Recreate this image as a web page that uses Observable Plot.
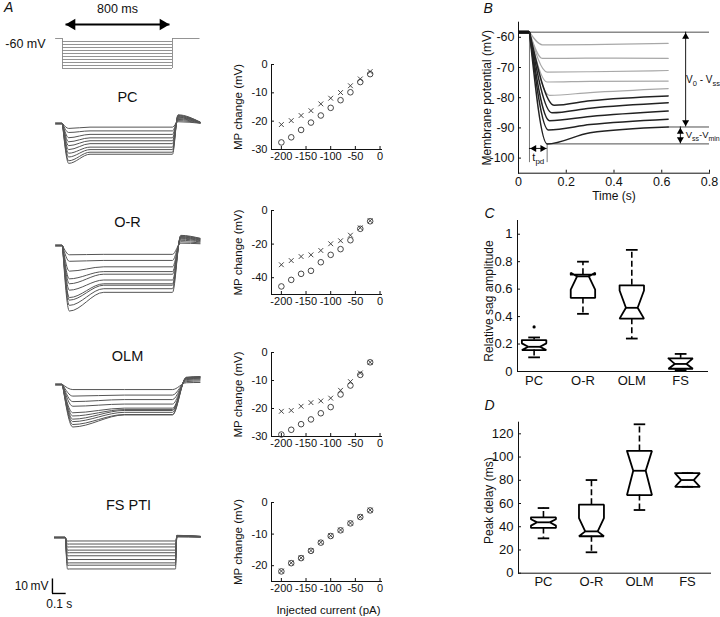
<!DOCTYPE html>
<html><head><meta charset="utf-8">
<script src="https://cdn.jsdelivr.net/npm/d3@7"></script>
<script src="https://cdn.jsdelivr.net/npm/@observablehq/plot@0.6"></script>
<style>
body{margin:0;background:#fff;}
#chart{position:relative;width:720px;height:617px;overflow:hidden;background:#fff;}
#chart svg{position:absolute;left:0;top:0;}
</style></head><body><div id="chart"></div>
<script>
// ---------------- DATA ----------------
const currents = [-200,-180,-160,-140,-120,-100,-80,-60,-40,-20]; // pA
const stepDuration = 0.8; // s (800 ms)
// MP change (mV): circles = peak, crosses = steady state
const pcPeak    = [-27.5,-25.7,-23.1,-20.5,-18.0,-15.3,-12.6,-9.8,-6.2,-3.4];
const pcSteady  = [-21.2,-19.8,-18.0,-16.3,-13.9,-11.9,-9.9,-7.5,-5.1,-2.5];
const orPeak    = [-45.2,-41.3,-37.7,-35.9,-30.8,-26.4,-23.0,-17.7,-10.9,-6.4];
const orSteady  = [-32.3,-29.8,-27.4,-26.4,-23.8,-19.8,-18.0,-14.7,-10.3,-6.1];
const olmPeak   = [-29.3,-27.6,-25.6,-23.9,-21.7,-19.5,-15.0,-11.8,-8.0,-3.5];
const olmSteady = [-21.0,-20.7,-19.2,-17.9,-17.3,-16.3,-13.5,-10.4,-7.3,-3.5];
const fsPeak    = [-21.8,-19.2,-17.6,-15.3,-12.7,-10.6,-8.8,-6.6,-4.6,-2.5];
const fsSteady  = [-21.7,-19.1,-17.5,-15.2,-12.6,-10.5,-8.7,-6.5,-4.5,-2.4];
// rebound after the step (mV above rest): peak and value at end of sweep
const pcRebound     = [6.0,5.6,5.2,4.8,4.4,4.0,3.4,2.8,2.0,1.2];
const pcReboundEnd  = [1.0,1.0,0.9,0.8,0.7,0.6,0.5,0.4,0.3,0.2];
const orRebound     = [7.0,6.6,6.2,5.8,5.4,5.0,4.4,3.6,2.6,1.6];
const orReboundEnd  = [5.0,4.8,4.5,4.2,3.8,3.4,3.0,2.5,1.8,1.2];
const olmRebound    = [5.0,4.8,4.6,4.4,4.1,3.8,3.4,2.8,2.0,1.2];
const olmReboundEnd = [5.5,5.3,5.1,4.9,4.6,4.3,3.8,3.2,2.4,1.4];
const fsRebound     = [1.5,1.4,1.3,1.2,1.1,1.0,0.9,0.8,0.6,0.4];
const fsReboundEnd  = [0.8,0.8,0.7,0.7,0.6,0.6,0.5,0.4,0.3,0.2];
const cellNames = ["PC","O-R","OLM","FS PTI"];
// waveform timing (s)
const peakTime   = [0.045,0.05,0.075,0.015];
const settleTime = [0.2,0.3,0.45,0.03];
const reboundTime= [0.84,0.86,0.9,0.81];
const sweepEnd   = [1.0,1.0,1.0,0.98];
const sweepStart = [-0.05,-0.05,-0.05,-0.08];

// Panel B: membrane potential traces (mV), 5 recorded (grey) + 5 model (black)
const bRest = -58.3;
const bStepOnset = 0.046, bSweepEnd = 0.627;
const bMin     = [-62.5,-67.0,-71.5,-74.8,-79.2,-82.5,-85.0,-87.6,-90.7,-95.3];
const bMinTime = [0.10,0.10,0.12,0.12,0.13,0.15,0.14,0.13,0.125,0.12];
const bMid     = [-62.4,-66.9,-71.4,-74.6,-78.3,-81.0,-83.5,-86.2,-88.9,-91.6]; // at 0.3 s
const bEnd     = [-62.0,-67.0,-71.0,-74.5,-77.0,-79.4,-81.7,-84.4,-87.1,-89.7];
const bKind    = ["rec","rec","rec","rec","rec","model","model","model","model","model"];

// Panels C & D: notched box plots
const groups = ["PC","O-R","OLM","FS"];
const sagWhiskerLo = [0.103,0.42,0.24,0.01];
const sagQ1        = [0.156,0.536,0.385,0.02];
const sagNotchLo   = [0.156,0.597,0.385,0.02];
const sagMedian    = [0.18,0.693,0.464,0.055];
const sagNotchHi   = [0.205,0.72,0.59,0.096];
const sagQ3        = [0.229,0.705,0.628,0.096];
const sagWhiskerHi = [0.248,0.80,0.886,0.128];
const sagOutlierGroup = ["PC"], sagOutlierValue = [0.325];
const delayWhiskerLo = [30,18,54.4,74.4];
const delayQ1        = [39,31.8,67.3,74.4];
const delayNotchLo   = [41,31.8,67.3,74.4];
const delayMedian    = [43.8,36,88.2,80.2];
const delayNotchHi   = [46.5,47.5,105.3,86.2];
const delayQ3        = [48,59,105.3,86.2];
const delayWhiskerHi = [56.1,80.2,128.2,86.2];

// ---------------- LAYOUT ----------------
const W = 720, H = 617;
const FONT = "'Liberation Sans', Arial, Helvetica, sans-serif";
const root = document.getElementById("chart");
const PX_PER_S = 137.5, PX_PER_MV = 1.45;
function frame(x0, x1, y0, y1) {
  return {width: W, height: H, marginLeft: x0, marginRight: W - x1, marginTop: y0, marginBottom: H - y1};
}
function draw(opts, fontSize = 11) {
  const svg = Plot.plot({...opts, style: {background: "transparent", fontFamily: FONT, fontSize: fontSize + "px", color: "#111", overflow: "visible"}});
  svg.style.position = "absolute"; svg.style.left = "0px"; svg.style.top = "0px";
  root.appendChild(svg);
  return svg;
}
const fmt = d => String(d);
const traceColor = "#555";
const C = {textAnchor: "middle", lineAnchor: "middle"};

// ---- Panel A: stimulus protocol ----
{
  const t0px = 62;
  const inset = 0.022;
  draw({
    ...frame(t0px - 0.15 * PX_PER_S, t0px + 1.0 * PX_PER_S, 38, 68),
    x: {domain: [-0.15, 1.0], axis: null},
    y: {domain: [-200, 0], axis: null},
    marks: [
      Plot.ruleY([0], {x1: -0.05, x2: 0, stroke: "#888", strokeWidth: 0.9}),
      Plot.ruleY([0], {x1: stepDuration, x2: 1.0, stroke: "#888", strokeWidth: 0.9}),
      Plot.ruleX([0, stepDuration], {y1: 0, y2: currents[0], stroke: "#888", strokeWidth: 0.9}),
      Plot.ruleY(currents, {x1: 0, x2: stepDuration, stroke: "#888", strokeWidth: 0.9}),
      Plot.link([stepDuration], {x1: inset, x2: stepDuration - inset, y1: 0, y2: 0, dy: -14, stroke: "#000", strokeWidth: 2.2}),
      Plot.dot([inset], {x: d => d, y: 0, dy: -14, dx: 6.5, symbol: "triangle", rotate: -90, r: 4.2, fill: "#000", stroke: "none"}),
      Plot.dot([stepDuration - inset], {x: d => d, y: 0, dy: -14, dx: -6.5, symbol: "triangle", rotate: 90, r: 4.2, fill: "#000", stroke: "none"}),
      Plot.text([`${stepDuration * 1000} ms`], {x: stepDuration / 2, y: 0, dy: -30, fontSize: 12.5, ...C}),
      Plot.text(["-60 mV"], {x: -0.05, y: 0, dx: -10, dy: 5, textAnchor: "end", lineAnchor: "middle", fontSize: 12.5}),
      Plot.text(["A"], {frameAnchor: "top-left", dx: -38, dy: -31, textAnchor: "start", lineAnchor: "middle", fontStyle: "italic", fontSize: 14})
    ]
  });
}

// ---- Panel A: voltage traces ----
const peaks = [pcPeak, orPeak, olmPeak, fsPeak];
const steadies = [pcSteady, orSteady, olmSteady, fsSteady];
const rebounds = [pcRebound, orRebound, olmRebound, fsRebound];
const reboundEnds = [pcReboundEnd, orReboundEnd, olmReboundEnd, fsReboundEnd];
const traceLayout = [
  {t0px: 62, basePx: 123, labelY: 97, labelX: 127},
  {t0px: 62, basePx: 245, labelY: 222, labelX: 127},
  {t0px: 62, basePx: 384, labelY: 356, labelX: 127},
  {t0px: 65, basePx: 537, labelY: 505, labelX: 128}
];
cellNames.forEach((name, ci) => {
  const L = traceLayout[ci];
  const x0 = L.t0px - 0.15 * PX_PER_S, x1 = L.t0px + 1.0 * PX_PER_S;
  const y0 = L.basePx - 34, y1 = L.basePx + 76;
  const main = currents.flatMap((c, i) => [
    {t: 0, v: 0}, {t: peakTime[ci], v: peaks[ci][i]}, {t: settleTime[ci], v: steadies[ci][i]},
    {t: stepDuration, v: steadies[ci][i]}, {t: reboundTime[ci], v: rebounds[ci][i]}, {t: sweepEnd[ci], v: reboundEnds[ci][i]}
  ].map(p => ({...p, k: c})));
  const marks = [
    Plot.ruleY([0], {x1: sweepStart[ci], x2: 0, stroke: traceColor, strokeWidth: 2.4}),
    Plot.line(main, {x: "t", y: "v", z: "k", curve: "monotone-x", stroke: traceColor, strokeWidth: 1}),
    Plot.text([name], {frameAnchor: "top", dx: L.labelX - (x0 + x1) / 2, dy: L.labelY - y0, fontSize: 14.5, ...C})
  ];
  if (ci === 3) {
    const barT = -0.095, barV = -38.6;
    marks.push(
      Plot.ruleX([barT], {y1: barV, y2: barV + 10, stroke: "#000", strokeWidth: 1.4}),
      Plot.ruleY([barV], {x1: barT, x2: barT + 0.1, stroke: "#000", strokeWidth: 1.4}),
      Plot.text(["10\u2009mV"], {x: barT, y: barV + 5, dx: -4, textAnchor: "end", lineAnchor: "middle", fontSize: 12}),
      Plot.text(["0.1 s"], {x: barT + 0.05, y: barV, dy: 11, fontSize: 12, ...C})
    );
  }
  draw({
    ...frame(x0, x1, y0, y1),
    x: {domain: [-0.15, 1.0], axis: null},
    y: {domain: [-76 / PX_PER_MV, 34 / PX_PER_MV], axis: null},
    marks
  });
});

// ---- Panel A: MP change vs injected current ----
const mpLayout = [
  {y0: 64, y1: 149, yDomain: [-30, 0], yTicks: [-30,-20,-10,0]},
  {y0: 210, y1: 294, yDomain: [-50, 0], yTicks: [-40,-20,0]},
  {y0: 352, y1: 436, yDomain: [-30, 0], yTicks: [-30,-20,-10,0]},
  {y0: 502, y1: 581, yDomain: [-25, 0], yTicks: [-20,-10,0]}
];
mpLayout.forEach((L, ci) => {
  const marks = [
    Plot.dot(currents, {x: d => d, y: (d, i) => peaks[ci][i], r: 2.8, stroke: "#333", fill: "none", strokeWidth: 0.9}),
    Plot.dot(currents, {x: d => d, y: (d, i) => steadies[ci][i], symbol: "times", r: 2.3, stroke: "#333", strokeWidth: 0.9}),
    Plot.text(["MP change (mV)"], {frameAnchor: "left", rotate: -90, dx: -33, fontSize: 11.5, ...C})
  ];
  if (ci === 3) marks.push(Plot.text(["Injected current (pA)"], {frameAnchor: "bottom", dx: 2, dy: 29, fontSize: 11.5, ...C}));
  draw({
    ...frame(271, 381, L.y0, L.y1),
    x: {domain: [-220, 3], ticks: [-200,-150,-100,-50,0], tickFormat: fmt, line: true, label: null, tickSize: -3, tickPadding: 6},
    y: {domain: L.yDomain, ticks: L.yTicks, tickFormat: fmt, line: true, label: null, tickSize: -3, tickPadding: 7},
    marks
  }, 11);
});

// ---- Panel B ----
{
  const bTraces = bMin.flatMap((m, i) => [
    {t: bStepOnset, v: bRest}, {t: bMinTime[i], v: m}, {t: 0.3, v: bMid[i]}, {t: bSweepEnd, v: bEnd[i]}
  ].map(p => ({...p, k: i, kind: bKind[i]})));
  const iLow = bMin.length - 1;
  const vss = bEnd[iLow], vmin = bMin[iLow], tmin = bMinTime[iLow];
  const ax1 = 0.70, ax2 = 0.678, hr = 2.6;
  draw({
    ...frame(518, 709, 21.7, 172.7),
    x: {domain: [0, 0.8], ticks: [0,0.2,0.4,0.6,0.8], tickFormat: fmt, line: true, label: null, tickSize: -3, tickPadding: 7},
    y: {domain: [-105, -55], ticks: [-100,-90,-80,-70,-60], tickFormat: fmt, line: true, label: null, tickSize: -3, tickPadding: 7},
    marks: [
      Plot.ruleY([bRest], {x1: bStepOnset, x2: 0.8, stroke: "#222", strokeWidth: 0.8}),
      Plot.ruleY([vss], {x1: bSweepEnd, x2: 0.8, stroke: "#222", strokeWidth: 0.8}),
      Plot.ruleY([vmin], {x1: tmin, x2: 0.8, stroke: "#222", strokeWidth: 0.8}),
      Plot.ruleX([bStepOnset], {y1: bRest, y2: -101.5, stroke: "#555", strokeWidth: 0.8}),
      Plot.ruleX([tmin], {y1: vmin, y2: -101.5, stroke: "#555", strokeWidth: 0.8}),
      Plot.line(bTraces.filter(d => d.kind === "rec"), {x: "t", y: "v", z: "k", curve: "monotone-x", stroke: "#a8a8a8", strokeWidth: 1.2}),
      Plot.line(bTraces.filter(d => d.kind === "model"), {x: "t", y: "v", z: "k", curve: "monotone-x", stroke: "#222", strokeWidth: 1.5}),
      Plot.ruleY([bRest], {x1: 0, x2: bStepOnset, stroke: "#111", strokeWidth: 3.5}),
      // V0 - Vss arrow
      Plot.ruleX([ax1], {y1: bRest, y2: vss, stroke: "#000", strokeWidth: 0.9}),
      Plot.dot([ax1], {x: d => d, y: bRest, dy: 2 * hr * 0.9, symbol: "triangle", r: hr, fill: "#000", stroke: "none"}),
      Plot.dot([ax1], {x: d => d, y: vss, dy: -2 * hr * 0.9, symbol: "triangle", rotate: 180, r: hr, fill: "#000", stroke: "none"}),
      // Vss - Vmin arrow
      Plot.ruleX([ax2], {y1: vss, y2: vmin, stroke: "#000", strokeWidth: 0.9}),
      Plot.dot([ax2], {x: d => d, y: vss, dy: 2 * hr * 0.9, symbol: "triangle", r: hr, fill: "#000", stroke: "none"}),
      Plot.dot([ax2], {x: d => d, y: vmin, dy: -2 * hr * 0.9, symbol: "triangle", rotate: 180, r: hr, fill: "#000", stroke: "none"}),
      // t_pd arrow
      Plot.ruleY([-96.8], {x1: bStepOnset, x2: tmin, stroke: "#000", strokeWidth: 0.9}),
      Plot.dot([-96.8], {x: bStepOnset, y: d => d, dx: 2 * hr * 0.9, symbol: "triangle", rotate: -90, r: hr, fill: "#000", stroke: "none"}),
      Plot.dot([-96.8], {x: tmin, y: d => d, dx: -2 * hr * 0.9, symbol: "triangle", rotate: 90, r: hr, fill: "#000", stroke: "none"}),
      Plot.text(["tpd"], {x: (bStepOnset + tmin) / 2, y: -99.8, fontSize: 11, ...C}),
      Plot.text(["V0 - Vss"], {x: 0.702, y: -74, textAnchor: "start", lineAnchor: "middle", fontSize: 10}),
      Plot.text(["Vss-Vmin"], {x: 0.7, y: -92.3, textAnchor: "start", lineAnchor: "middle", fontSize: 9.5}),
      Plot.text(["Membrane potential (mV)"], {frameAnchor: "left", rotate: -90, dx: -31, fontSize: 12, ...C}),
      Plot.text(["Time (s)"], {frameAnchor: "bottom", dy: 23, fontSize: 12, ...C}),
      Plot.text(["B"], {frameAnchor: "top-left", dx: -35, dy: -14, textAnchor: "start", lineAnchor: "middle", fontStyle: "italic", fontSize: 14})
    ]
  }, 12.5);
}

// ---- Panels C & D: notched box plots ----
function boxMarks(stats, w, wn, cap) {
  const outline = stats.flatMap(s => [
    [s.x - w, s.q3], [s.x + w, s.q3], [s.x + w, s.nhi], [s.x + wn, s.med], [s.x + w, s.nlo], [s.x + w, s.q1],
    [s.x - w, s.q1], [s.x - w, s.nlo], [s.x - wn, s.med], [s.x - w, s.nhi], [s.x - w, s.q3]
  ].map(([x, y]) => ({x, y, g: s.group})));
  const sw = 1.8;
  return [
    Plot.ruleX(stats, {x: "x", y1: "q3", y2: "wh", stroke: "#000", strokeWidth: 1.6, strokeDasharray: "6,3"}),
    Plot.ruleX(stats, {x: "x", y1: "q1", y2: "wl", stroke: "#000", strokeWidth: 1.6, strokeDasharray: "6,3"}),
    Plot.link(stats, {x1: d => d.x - cap, x2: d => d.x + cap, y1: "wh", y2: "wh", stroke: "#000", strokeWidth: sw}),
    Plot.link(stats, {x1: d => d.x - cap, x2: d => d.x + cap, y1: "wl", y2: "wl", stroke: "#000", strokeWidth: sw}),
    Plot.line(outline, {x: "x", y: "y", z: "g", stroke: "#000", strokeWidth: sw, strokeLinejoin: "miter"}),
    Plot.link(stats, {x1: d => d.x - wn, x2: d => d.x + wn, y1: "med", y2: "med", stroke: "#000", strokeWidth: sw})
  ];
}
const sagStats = groups.map((g, i) => ({group: g, x: i + 1, wl: sagWhiskerLo[i], q1: sagQ1[i], nlo: sagNotchLo[i], med: sagMedian[i], nhi: sagNotchHi[i], q3: sagQ3[i], wh: sagWhiskerHi[i]}));
const delayStats = groups.map((g, i) => ({group: g, x: i + 1, wl: delayWhiskerLo[i], q1: delayQ1[i], nlo: delayNotchLo[i], med: delayMedian[i], nhi: delayNotchHi[i], q3: delayQ3[i], wh: delayWhiskerHi[i]}));
draw({
  ...frame(517, 707, 220, 371),
  x: {domain: [0.66, 4.55], ticks: [1,2,3,4], tickFormat: d => groups[d - 1], line: true, label: null, tickSize: 0, tickPadding: 4},
  y: {domain: [0, 1.1], ticks: [0,0.2,0.4,0.6,0.8,1], tickFormat: fmt, line: true, label: null, tickSize: -3, tickPadding: 8},
  marks: [
    ...boxMarks(sagStats, 0.25, 0.12, 0.12),
    Plot.dot(sagOutlierGroup, {x: g => groups.indexOf(g) + 1, y: (g, i) => sagOutlierValue[i], r: 1.6, fill: "#000", stroke: "none"}),
    Plot.text(["Relative sag amplitude"], {frameAnchor: "left", rotate: -90, dx: -28, dy: 5, fontSize: 12, ...C}),
    Plot.text(["C"], {frameAnchor: "top-left", dx: -33, dy: -7, textAnchor: "start", lineAnchor: "middle", fontStyle: "italic", fontSize: 14})
  ]
}, 13);
draw({
  ...frame(518, 710, 421.7, 572.7),
  x: {domain: [0.48, 4.48], ticks: [1,2,3,4], tickFormat: d => groups[d - 1], line: true, label: null, tickSize: 0, tickPadding: 4},
  y: {domain: [0, 130], ticks: [0,20,40,60,80,100,120], tickFormat: fmt, line: true, label: null, tickSize: -3, tickPadding: 8},
  marks: [
    ...boxMarks(delayStats, 0.26, 0.13, 0.12),
    Plot.text(["Peak delay (ms)"], {frameAnchor: "left", rotate: -90, dx: -29, dy: 3, fontSize: 12, ...C}),
    Plot.text(["D"], {frameAnchor: "top-left", dx: -34, dy: -17, textAnchor: "start", lineAnchor: "middle", fontStyle: "italic", fontSize: 14})
  ]
}, 13);

// subscripts
const subs = {
  "V0 - Vss": 'V<tspan dy="3" font-size="7.5">0</tspan><tspan dy="-3"> - V</tspan><tspan dy="3" font-size="7.5">ss</tspan>',
  "Vss-Vmin": 'V<tspan dy="3" font-size="7">ss</tspan><tspan dy="-3">-V</tspan><tspan dy="3" font-size="7">min</tspan>',
  "tpd": 't<tspan dy="3" font-size="8">pd</tspan>'
};
root.querySelectorAll("text").forEach(t => { if (subs[t.textContent] !== undefined) t.innerHTML = subs[t.textContent]; });
</script></body></html>
